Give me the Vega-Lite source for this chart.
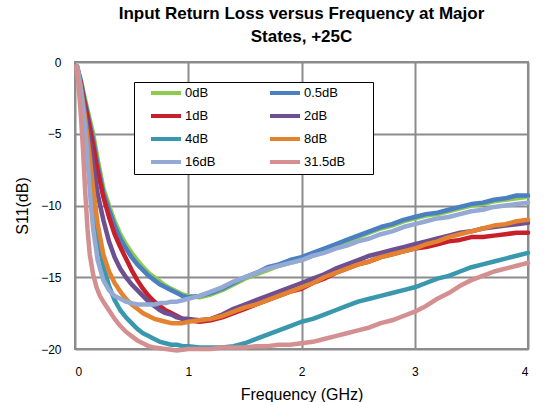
{
"$schema":"https://vega.github.io/schema/vega-lite/v6.json",
"autosize":{"type":"none"},
"width":453,"height":287,
"padding":{"left":75,"top":62,"right":20,"bottom":53},
"background":"white",
"title":{"text":["Input Return Loss versus Frequency at Major","States, +25C"],"font":"Liberation Sans","fontSize":17,"fontWeight":"bold","color":"#000000","anchor":"middle","frame":"group","offset":10,"lineHeight":23},
"datasets":{"d":[
{"s":"0dB","f":0.02,"v":-0.4},{"s":"0dB","f":0.05,"v":-1.2},{"s":"0dB","f":0.08,"v":-2.3},{"s":"0dB","f":0.1,"v":-3.0},{"s":"0dB","f":0.13,"v":-4.0},{"s":"0dB","f":0.16,"v":-5.0},{"s":"0dB","f":0.2,"v":-6.8},{"s":"0dB","f":0.25,"v":-8.8},{"s":"0dB","f":0.3,"v":-10.0},{"s":"0dB","f":0.35,"v":-11.1},{"s":"0dB","f":0.4,"v":-12.0},{"s":"0dB","f":0.45,"v":-12.7},{"s":"0dB","f":0.5,"v":-13.3},{"s":"0dB","f":0.55,"v":-13.8},{"s":"0dB","f":0.6,"v":-14.3},{"s":"0dB","f":0.65,"v":-14.7},{"s":"0dB","f":0.7,"v":-15.0},{"s":"0dB","f":0.75,"v":-15.3},{"s":"0dB","f":0.8,"v":-15.6},{"s":"0dB","f":0.85,"v":-15.8},{"s":"0dB","f":0.9,"v":-16.0},{"s":"0dB","f":0.95,"v":-16.2},{"s":"0dB","f":1.0,"v":-16.3},{"s":"0dB","f":1.1,"v":-16.4},{"s":"0dB","f":1.2,"v":-16.2},{"s":"0dB","f":1.3,"v":-15.9},{"s":"0dB","f":1.4,"v":-15.5},{"s":"0dB","f":1.5,"v":-15.1},{"s":"0dB","f":1.6,"v":-14.8},{"s":"0dB","f":1.7,"v":-14.5},{"s":"0dB","f":1.8,"v":-14.2},{"s":"0dB","f":1.9,"v":-14.0},{"s":"0dB","f":2.0,"v":-13.8},{"s":"0dB","f":2.1,"v":-13.5},{"s":"0dB","f":2.2,"v":-13.2},{"s":"0dB","f":2.3,"v":-12.8},{"s":"0dB","f":2.4,"v":-12.5},{"s":"0dB","f":2.5,"v":-12.2},{"s":"0dB","f":2.6,"v":-11.9},{"s":"0dB","f":2.7,"v":-11.6},{"s":"0dB","f":2.8,"v":-11.4},{"s":"0dB","f":2.9,"v":-11.1},{"s":"0dB","f":3.0,"v":-10.9},{"s":"0dB","f":3.1,"v":-10.7},{"s":"0dB","f":3.2,"v":-10.6},{"s":"0dB","f":3.3,"v":-10.4},{"s":"0dB","f":3.4,"v":-10.2},{"s":"0dB","f":3.5,"v":-10.0},{"s":"0dB","f":3.6,"v":-9.9},{"s":"0dB","f":3.7,"v":-9.7},{"s":"0dB","f":3.8,"v":-9.6},{"s":"0dB","f":3.9,"v":-9.5},{"s":"0dB","f":4.0,"v":-9.4},
{"s":"0.5dB","f":0.02,"v":-0.4},{"s":"0.5dB","f":0.05,"v":-1.3},{"s":"0.5dB","f":0.08,"v":-2.5},{"s":"0.5dB","f":0.1,"v":-3.2},{"s":"0.5dB","f":0.13,"v":-4.3},{"s":"0.5dB","f":0.16,"v":-5.4},{"s":"0.5dB","f":0.2,"v":-7.2},{"s":"0.5dB","f":0.25,"v":-9.1},{"s":"0.5dB","f":0.3,"v":-10.3},{"s":"0.5dB","f":0.35,"v":-11.4},{"s":"0.5dB","f":0.4,"v":-12.3},{"s":"0.5dB","f":0.45,"v":-13.0},{"s":"0.5dB","f":0.5,"v":-13.6},{"s":"0.5dB","f":0.55,"v":-14.1},{"s":"0.5dB","f":0.6,"v":-14.5},{"s":"0.5dB","f":0.65,"v":-14.9},{"s":"0.5dB","f":0.7,"v":-15.2},{"s":"0.5dB","f":0.75,"v":-15.5},{"s":"0.5dB","f":0.8,"v":-15.7},{"s":"0.5dB","f":0.85,"v":-15.9},{"s":"0.5dB","f":0.9,"v":-16.1},{"s":"0.5dB","f":0.95,"v":-16.3},{"s":"0.5dB","f":1.0,"v":-16.4},{"s":"0.5dB","f":1.1,"v":-16.3},{"s":"0.5dB","f":1.2,"v":-16.1},{"s":"0.5dB","f":1.3,"v":-15.8},{"s":"0.5dB","f":1.4,"v":-15.4},{"s":"0.5dB","f":1.5,"v":-15.0},{"s":"0.5dB","f":1.6,"v":-14.7},{"s":"0.5dB","f":1.7,"v":-14.3},{"s":"0.5dB","f":1.8,"v":-14.1},{"s":"0.5dB","f":1.9,"v":-13.8},{"s":"0.5dB","f":2.0,"v":-13.6},{"s":"0.5dB","f":2.1,"v":-13.3},{"s":"0.5dB","f":2.2,"v":-13.0},{"s":"0.5dB","f":2.3,"v":-12.7},{"s":"0.5dB","f":2.4,"v":-12.4},{"s":"0.5dB","f":2.5,"v":-12.1},{"s":"0.5dB","f":2.6,"v":-11.8},{"s":"0.5dB","f":2.7,"v":-11.5},{"s":"0.5dB","f":2.8,"v":-11.3},{"s":"0.5dB","f":2.9,"v":-11.0},{"s":"0.5dB","f":3.0,"v":-10.8},{"s":"0.5dB","f":3.1,"v":-10.6},{"s":"0.5dB","f":3.2,"v":-10.5},{"s":"0.5dB","f":3.3,"v":-10.3},{"s":"0.5dB","f":3.4,"v":-10.1},{"s":"0.5dB","f":3.5,"v":-9.9},{"s":"0.5dB","f":3.6,"v":-9.8},{"s":"0.5dB","f":3.7,"v":-9.6},{"s":"0.5dB","f":3.8,"v":-9.5},{"s":"0.5dB","f":3.9,"v":-9.3},{"s":"0.5dB","f":4.0,"v":-9.3},
{"s":"1dB","f":0.02,"v":-0.5},{"s":"1dB","f":0.05,"v":-1.4},{"s":"1dB","f":0.08,"v":-2.7},{"s":"1dB","f":0.1,"v":-3.4},{"s":"1dB","f":0.13,"v":-4.6},{"s":"1dB","f":0.16,"v":-5.8},{"s":"1dB","f":0.2,"v":-7.6},{"s":"1dB","f":0.25,"v":-9.4},{"s":"1dB","f":0.3,"v":-10.8},{"s":"1dB","f":0.35,"v":-12.0},{"s":"1dB","f":0.4,"v":-12.9},{"s":"1dB","f":0.45,"v":-13.7},{"s":"1dB","f":0.5,"v":-14.5},{"s":"1dB","f":0.55,"v":-15.2},{"s":"1dB","f":0.6,"v":-15.8},{"s":"1dB","f":0.65,"v":-16.3},{"s":"1dB","f":0.7,"v":-16.7},{"s":"1dB","f":0.75,"v":-17.0},{"s":"1dB","f":0.8,"v":-17.3},{"s":"1dB","f":0.85,"v":-17.5},{"s":"1dB","f":0.9,"v":-17.7},{"s":"1dB","f":0.95,"v":-17.9},{"s":"1dB","f":1.0,"v":-18.0},{"s":"1dB","f":1.1,"v":-18.1},{"s":"1dB","f":1.2,"v":-18.0},{"s":"1dB","f":1.3,"v":-17.8},{"s":"1dB","f":1.4,"v":-17.5},{"s":"1dB","f":1.5,"v":-17.2},{"s":"1dB","f":1.6,"v":-16.9},{"s":"1dB","f":1.7,"v":-16.6},{"s":"1dB","f":1.8,"v":-16.3},{"s":"1dB","f":1.9,"v":-16.0},{"s":"1dB","f":2.0,"v":-15.8},{"s":"1dB","f":2.1,"v":-15.4},{"s":"1dB","f":2.2,"v":-15.1},{"s":"1dB","f":2.3,"v":-14.7},{"s":"1dB","f":2.4,"v":-14.4},{"s":"1dB","f":2.5,"v":-14.1},{"s":"1dB","f":2.6,"v":-13.9},{"s":"1dB","f":2.7,"v":-13.6},{"s":"1dB","f":2.8,"v":-13.4},{"s":"1dB","f":2.9,"v":-13.2},{"s":"1dB","f":3.0,"v":-13.0},{"s":"1dB","f":3.1,"v":-12.9},{"s":"1dB","f":3.2,"v":-12.7},{"s":"1dB","f":3.3,"v":-12.5},{"s":"1dB","f":3.4,"v":-12.4},{"s":"1dB","f":3.5,"v":-12.2},{"s":"1dB","f":3.6,"v":-12.2},{"s":"1dB","f":3.7,"v":-12.1},{"s":"1dB","f":3.8,"v":-12.0},{"s":"1dB","f":3.9,"v":-11.9},{"s":"1dB","f":4.0,"v":-11.9},
{"s":"2dB","f":0.02,"v":-0.4},{"s":"2dB","f":0.05,"v":-1.6},{"s":"2dB","f":0.08,"v":-3.0},{"s":"2dB","f":0.1,"v":-4.0},{"s":"2dB","f":0.13,"v":-5.5},{"s":"2dB","f":0.16,"v":-7.1},{"s":"2dB","f":0.2,"v":-9.2},{"s":"2dB","f":0.25,"v":-11.0},{"s":"2dB","f":0.3,"v":-12.5},{"s":"2dB","f":0.35,"v":-13.6},{"s":"2dB","f":0.4,"v":-14.4},{"s":"2dB","f":0.45,"v":-15.0},{"s":"2dB","f":0.5,"v":-15.5},{"s":"2dB","f":0.55,"v":-15.9},{"s":"2dB","f":0.6,"v":-16.3},{"s":"2dB","f":0.65,"v":-16.7},{"s":"2dB","f":0.7,"v":-17.0},{"s":"2dB","f":0.75,"v":-17.3},{"s":"2dB","f":0.8,"v":-17.5},{"s":"2dB","f":0.85,"v":-17.6},{"s":"2dB","f":0.9,"v":-17.8},{"s":"2dB","f":0.95,"v":-17.9},{"s":"2dB","f":1.0,"v":-17.9},{"s":"2dB","f":1.1,"v":-18.0},{"s":"2dB","f":1.2,"v":-17.9},{"s":"2dB","f":1.3,"v":-17.6},{"s":"2dB","f":1.4,"v":-17.2},{"s":"2dB","f":1.5,"v":-16.9},{"s":"2dB","f":1.6,"v":-16.6},{"s":"2dB","f":1.7,"v":-16.3},{"s":"2dB","f":1.8,"v":-16.0},{"s":"2dB","f":1.9,"v":-15.7},{"s":"2dB","f":2.0,"v":-15.4},{"s":"2dB","f":2.1,"v":-15.1},{"s":"2dB","f":2.2,"v":-14.8},{"s":"2dB","f":2.3,"v":-14.4},{"s":"2dB","f":2.4,"v":-14.1},{"s":"2dB","f":2.5,"v":-13.8},{"s":"2dB","f":2.6,"v":-13.5},{"s":"2dB","f":2.7,"v":-13.3},{"s":"2dB","f":2.8,"v":-13.1},{"s":"2dB","f":2.9,"v":-12.9},{"s":"2dB","f":3.0,"v":-12.7},{"s":"2dB","f":3.1,"v":-12.5},{"s":"2dB","f":3.2,"v":-12.3},{"s":"2dB","f":3.3,"v":-12.1},{"s":"2dB","f":3.4,"v":-11.9},{"s":"2dB","f":3.5,"v":-11.8},{"s":"2dB","f":3.6,"v":-11.6},{"s":"2dB","f":3.7,"v":-11.5},{"s":"2dB","f":3.8,"v":-11.4},{"s":"2dB","f":3.9,"v":-11.3},{"s":"2dB","f":4.0,"v":-11.2},
{"s":"4dB","f":0.02,"v":-0.4},{"s":"4dB","f":0.05,"v":-1.8},{"s":"4dB","f":0.08,"v":-3.6},{"s":"4dB","f":0.1,"v":-5.0},{"s":"4dB","f":0.13,"v":-7.5},{"s":"4dB","f":0.16,"v":-9.8},{"s":"4dB","f":0.2,"v":-12.2},{"s":"4dB","f":0.25,"v":-14.2},{"s":"4dB","f":0.3,"v":-15.6},{"s":"4dB","f":0.35,"v":-16.6},{"s":"4dB","f":0.4,"v":-17.3},{"s":"4dB","f":0.45,"v":-17.8},{"s":"4dB","f":0.5,"v":-18.2},{"s":"4dB","f":0.55,"v":-18.6},{"s":"4dB","f":0.6,"v":-18.9},{"s":"4dB","f":0.65,"v":-19.1},{"s":"4dB","f":0.7,"v":-19.3},{"s":"4dB","f":0.75,"v":-19.5},{"s":"4dB","f":0.8,"v":-19.6},{"s":"4dB","f":0.85,"v":-19.7},{"s":"4dB","f":0.9,"v":-19.7},{"s":"4dB","f":0.95,"v":-19.8},{"s":"4dB","f":1.0,"v":-19.8},{"s":"4dB","f":1.1,"v":-19.9},{"s":"4dB","f":1.2,"v":-19.9},{"s":"4dB","f":1.3,"v":-19.9},{"s":"4dB","f":1.4,"v":-19.8},{"s":"4dB","f":1.5,"v":-19.6},{"s":"4dB","f":1.6,"v":-19.3},{"s":"4dB","f":1.7,"v":-19.0},{"s":"4dB","f":1.8,"v":-18.7},{"s":"4dB","f":1.9,"v":-18.4},{"s":"4dB","f":2.0,"v":-18.1},{"s":"4dB","f":2.1,"v":-17.9},{"s":"4dB","f":2.2,"v":-17.6},{"s":"4dB","f":2.3,"v":-17.3},{"s":"4dB","f":2.4,"v":-17.0},{"s":"4dB","f":2.5,"v":-16.7},{"s":"4dB","f":2.6,"v":-16.5},{"s":"4dB","f":2.7,"v":-16.3},{"s":"4dB","f":2.8,"v":-16.1},{"s":"4dB","f":2.9,"v":-15.9},{"s":"4dB","f":3.0,"v":-15.7},{"s":"4dB","f":3.1,"v":-15.4},{"s":"4dB","f":3.2,"v":-15.1},{"s":"4dB","f":3.3,"v":-14.9},{"s":"4dB","f":3.4,"v":-14.6},{"s":"4dB","f":3.5,"v":-14.3},{"s":"4dB","f":3.6,"v":-14.1},{"s":"4dB","f":3.7,"v":-13.9},{"s":"4dB","f":3.8,"v":-13.7},{"s":"4dB","f":3.9,"v":-13.5},{"s":"4dB","f":4.0,"v":-13.3},
{"s":"8dB","f":0.02,"v":-0.3},{"s":"8dB","f":0.05,"v":-1.7},{"s":"8dB","f":0.08,"v":-3.4},{"s":"8dB","f":0.1,"v":-4.6},{"s":"8dB","f":0.13,"v":-6.6},{"s":"8dB","f":0.16,"v":-8.8},{"s":"8dB","f":0.2,"v":-11.3},{"s":"8dB","f":0.25,"v":-13.4},{"s":"8dB","f":0.3,"v":-14.6},{"s":"8dB","f":0.35,"v":-15.4},{"s":"8dB","f":0.4,"v":-16.0},{"s":"8dB","f":0.45,"v":-16.5},{"s":"8dB","f":0.5,"v":-16.9},{"s":"8dB","f":0.55,"v":-17.2},{"s":"8dB","f":0.6,"v":-17.5},{"s":"8dB","f":0.65,"v":-17.7},{"s":"8dB","f":0.7,"v":-17.9},{"s":"8dB","f":0.75,"v":-18.0},{"s":"8dB","f":0.8,"v":-18.1},{"s":"8dB","f":0.85,"v":-18.2},{"s":"8dB","f":0.9,"v":-18.2},{"s":"8dB","f":0.95,"v":-18.2},{"s":"8dB","f":1.0,"v":-18.1},{"s":"8dB","f":1.1,"v":-18.0},{"s":"8dB","f":1.2,"v":-17.9},{"s":"8dB","f":1.3,"v":-17.7},{"s":"8dB","f":1.4,"v":-17.4},{"s":"8dB","f":1.5,"v":-17.1},{"s":"8dB","f":1.6,"v":-16.9},{"s":"8dB","f":1.7,"v":-16.6},{"s":"8dB","f":1.8,"v":-16.3},{"s":"8dB","f":1.9,"v":-16.0},{"s":"8dB","f":2.0,"v":-15.7},{"s":"8dB","f":2.1,"v":-15.4},{"s":"8dB","f":2.2,"v":-15.0},{"s":"8dB","f":2.3,"v":-14.7},{"s":"8dB","f":2.4,"v":-14.4},{"s":"8dB","f":2.5,"v":-14.1},{"s":"8dB","f":2.6,"v":-13.9},{"s":"8dB","f":2.7,"v":-13.6},{"s":"8dB","f":2.8,"v":-13.4},{"s":"8dB","f":2.9,"v":-13.2},{"s":"8dB","f":3.0,"v":-13.0},{"s":"8dB","f":3.1,"v":-12.7},{"s":"8dB","f":3.2,"v":-12.5},{"s":"8dB","f":3.3,"v":-12.2},{"s":"8dB","f":3.4,"v":-12.0},{"s":"8dB","f":3.5,"v":-11.8},{"s":"8dB","f":3.6,"v":-11.6},{"s":"8dB","f":3.7,"v":-11.4},{"s":"8dB","f":3.8,"v":-11.3},{"s":"8dB","f":3.9,"v":-11.1},{"s":"8dB","f":4.0,"v":-11.0},
{"s":"16dB","f":0.02,"v":-0.3},{"s":"16dB","f":0.05,"v":-1.8},{"s":"16dB","f":0.08,"v":-3.9},{"s":"16dB","f":0.1,"v":-5.6},{"s":"16dB","f":0.12,"v":-7.8},{"s":"16dB","f":0.14,"v":-9.9},{"s":"16dB","f":0.16,"v":-11.6},{"s":"16dB","f":0.2,"v":-13.8},{"s":"16dB","f":0.25,"v":-15.2},{"s":"16dB","f":0.3,"v":-15.9},{"s":"16dB","f":0.35,"v":-16.3},{"s":"16dB","f":0.4,"v":-16.5},{"s":"16dB","f":0.45,"v":-16.7},{"s":"16dB","f":0.5,"v":-16.8},{"s":"16dB","f":0.55,"v":-16.9},{"s":"16dB","f":0.6,"v":-16.9},{"s":"16dB","f":0.65,"v":-16.9},{"s":"16dB","f":0.7,"v":-16.9},{"s":"16dB","f":0.75,"v":-16.8},{"s":"16dB","f":0.8,"v":-16.8},{"s":"16dB","f":0.85,"v":-16.7},{"s":"16dB","f":0.9,"v":-16.7},{"s":"16dB","f":0.95,"v":-16.6},{"s":"16dB","f":1.0,"v":-16.5},{"s":"16dB","f":1.1,"v":-16.3},{"s":"16dB","f":1.2,"v":-16.0},{"s":"16dB","f":1.3,"v":-15.7},{"s":"16dB","f":1.4,"v":-15.3},{"s":"16dB","f":1.5,"v":-15.0},{"s":"16dB","f":1.6,"v":-14.7},{"s":"16dB","f":1.7,"v":-14.4},{"s":"16dB","f":1.8,"v":-14.2},{"s":"16dB","f":1.9,"v":-14.0},{"s":"16dB","f":2.0,"v":-13.8},{"s":"16dB","f":2.1,"v":-13.5},{"s":"16dB","f":2.2,"v":-13.3},{"s":"16dB","f":2.3,"v":-13.0},{"s":"16dB","f":2.4,"v":-12.8},{"s":"16dB","f":2.5,"v":-12.5},{"s":"16dB","f":2.6,"v":-12.3},{"s":"16dB","f":2.7,"v":-12.0},{"s":"16dB","f":2.8,"v":-11.8},{"s":"16dB","f":2.9,"v":-11.5},{"s":"16dB","f":3.0,"v":-11.3},{"s":"16dB","f":3.1,"v":-11.1},{"s":"16dB","f":3.2,"v":-10.9},{"s":"16dB","f":3.3,"v":-10.8},{"s":"16dB","f":3.4,"v":-10.6},{"s":"16dB","f":3.5,"v":-10.4},{"s":"16dB","f":3.6,"v":-10.3},{"s":"16dB","f":3.7,"v":-10.1},{"s":"16dB","f":3.8,"v":-10.0},{"s":"16dB","f":3.9,"v":-9.9},{"s":"16dB","f":4.0,"v":-9.8},
{"s":"31.5dB","f":0.01,"v":-0.3},{"s":"31.5dB","f":0.03,"v":-1.5},{"s":"31.5dB","f":0.05,"v":-3.5},{"s":"31.5dB","f":0.07,"v":-6.0},{"s":"31.5dB","f":0.09,"v":-9.0},{"s":"31.5dB","f":0.11,"v":-11.6},{"s":"31.5dB","f":0.13,"v":-13.4},{"s":"31.5dB","f":0.16,"v":-14.8},{"s":"31.5dB","f":0.19,"v":-15.7},{"s":"31.5dB","f":0.22,"v":-16.3},{"s":"31.5dB","f":0.25,"v":-16.7},{"s":"31.5dB","f":0.3,"v":-17.3},{"s":"31.5dB","f":0.35,"v":-17.9},{"s":"31.5dB","f":0.4,"v":-18.4},{"s":"31.5dB","f":0.45,"v":-18.8},{"s":"31.5dB","f":0.5,"v":-19.1},{"s":"31.5dB","f":0.55,"v":-19.4},{"s":"31.5dB","f":0.6,"v":-19.6},{"s":"31.5dB","f":0.65,"v":-19.8},{"s":"31.5dB","f":0.7,"v":-19.9},{"s":"31.5dB","f":0.8,"v":-20.0},{"s":"31.5dB","f":0.9,"v":-20.1},{"s":"31.5dB","f":1.0,"v":-20.0},{"s":"31.5dB","f":1.1,"v":-20.0},{"s":"31.5dB","f":1.2,"v":-20.0},{"s":"31.5dB","f":1.3,"v":-19.9},{"s":"31.5dB","f":1.4,"v":-19.9},{"s":"31.5dB","f":1.5,"v":-19.9},{"s":"31.5dB","f":1.6,"v":-19.8},{"s":"31.5dB","f":1.7,"v":-19.8},{"s":"31.5dB","f":1.8,"v":-19.7},{"s":"31.5dB","f":1.9,"v":-19.7},{"s":"31.5dB","f":2.0,"v":-19.6},{"s":"31.5dB","f":2.1,"v":-19.5},{"s":"31.5dB","f":2.2,"v":-19.3},{"s":"31.5dB","f":2.3,"v":-19.1},{"s":"31.5dB","f":2.4,"v":-18.9},{"s":"31.5dB","f":2.5,"v":-18.7},{"s":"31.5dB","f":2.6,"v":-18.5},{"s":"31.5dB","f":2.7,"v":-18.2},{"s":"31.5dB","f":2.8,"v":-18.0},{"s":"31.5dB","f":2.9,"v":-17.7},{"s":"31.5dB","f":3.0,"v":-17.4},{"s":"31.5dB","f":3.1,"v":-17.0},{"s":"31.5dB","f":3.2,"v":-16.5},{"s":"31.5dB","f":3.3,"v":-16.1},{"s":"31.5dB","f":3.4,"v":-15.6},{"s":"31.5dB","f":3.5,"v":-15.2},{"s":"31.5dB","f":3.6,"v":-14.9},{"s":"31.5dB","f":3.7,"v":-14.6},{"s":"31.5dB","f":3.8,"v":-14.4},{"s":"31.5dB","f":3.9,"v":-14.2},{"s":"31.5dB","f":4.0,"v":-14.0}
]},
"data":{"name":"d"},
"mark":{"type":"line","strokeWidth":4.5,"strokeJoin":"round","strokeCap":"round"},
"encoding":{
"x":{"field":"f","type":"quantitative","scale":{"domain":[0,4],"nice":false,"zero":false},
"axis":{"title":"Frequency (GHz)","values":[0,1,2,3,4],"format":"d","labelPadding":17,"titlePadding":9}},
"y":{"field":"v","type":"quantitative","scale":{"domain":[-20,0],"nice":false,"zero":false},
"axis":{"title":"S11(dB)","values":[-20,-15,-10,-5,0],"labelPadding":14,"titlePadding":10}},
"color":{"field":"s","type":"nominal","sort":["0dB","0.5dB","1dB","2dB","4dB","8dB","16dB","31.5dB"],
"scale":{"domain":["0dB","0.5dB","1dB","2dB","4dB","8dB","16dB","31.5dB"],"range":["#8DCB4E","#4A7FC1","#C8202B","#6E4F91","#3A98AE","#E5822F","#94A9D3","#D48F90"]},
"legend":{"title":"\u00a0","titleOrient":"right","titlePadding":24,"titleFontSize":4,"orient":"none","legendX":59,"legendY":20,"columns":2,"direction":"horizontal","gridAlign":"all","columnPadding":30,"rowPadding":7,"padding":4,"symbolOffset":21,"symbolType":"M-3,0H3","symbolSize":100,"symbolStrokeWidth":4,"labelFont":"Liberation Sans","labelFontSize":13,"labelColor":"#000000","labelOffset":12,"strokeColor":"#000000","fillColor":"white"}}
},
"config":{
"view":{"stroke":"#8c8c8c","strokeWidth":2},
"axis":{"domain":false,"ticks":false,"grid":true,"gridColor":"#8c8c8c","gridWidth":2,"labelFont":"Liberation Sans","labelFontSize":12,"labelColor":"#000000","titleFont":"Liberation Sans","titleFontSize":16,"titleFontWeight":"normal","titleColor":"#000000"}
}
}
